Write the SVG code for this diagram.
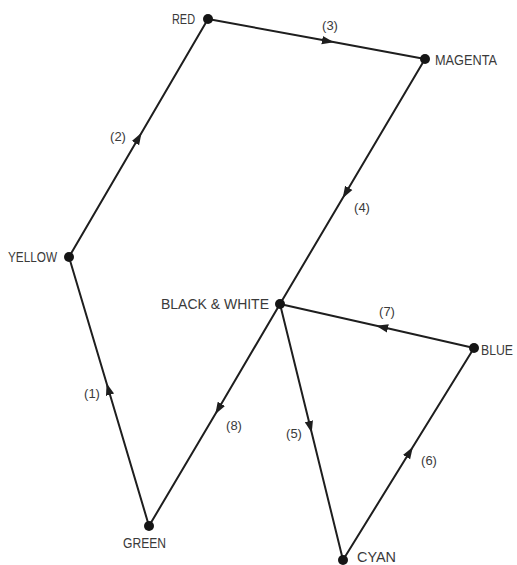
<svg xmlns="http://www.w3.org/2000/svg" width="517" height="565" viewBox="0 0 517 565">
<style>
.e{fill:none;stroke:#1e1e1e;stroke-width:2;marker-mid:url(#ah)}
.n{fill:#151515}
.t{font-family:"Liberation Sans",Arial,sans-serif;font-size:14px;fill:#3a3a3a}
.l{font-family:"Liberation Sans",Arial,sans-serif;font-size:13px;fill:#3a3a3a}
</style>
<defs>
<marker id="ah" markerUnits="userSpaceOnUse" markerWidth="12" markerHeight="10" refX="5" refY="3.5" orient="auto" viewBox="0 0 10 7">
<path d="M0,0 L10,3.5 L0,7 Z" fill="#1e1e1e"/>
</marker>
</defs>
<rect width="517" height="565" fill="#fff"/>
<g id="connectors">
<path id="e1" class="e" d="M149,526 L108.3,389 L69,257"/>
<path id="e2" class="e" d="M69,257 L138.5,138 L208,19"/>
<path id="e3" class="e" d="M208,19 L328,41.1 L425,59"/>
<path id="e4" class="e" d="M425,59 L345.7,193 L280,304"/>
<path id="e5" class="e" d="M280,304 L310.3,427 L343,560"/>
<path id="e6" class="e" d="M343,560 L409.7,452 L474,348"/>
<path id="e7" class="e" d="M474,348 L382,327.1 L280,304"/>
<path id="e8" class="e" d="M280,304 L218.3,409 L149,526"/>
<text class="l" x="330" y="30" text-anchor="middle">(3)</text>
<text class="l" x="118" y="141" text-anchor="middle">(2)</text>
<text class="l" x="362" y="212" text-anchor="middle">(4)</text>
<text class="l" x="387" y="316" text-anchor="middle">(7)</text>
<text class="l" x="92" y="398" text-anchor="middle">(1)</text>
<text class="l" x="234" y="430" text-anchor="middle">(8)</text>
<text class="l" x="294" y="438" text-anchor="middle">(5)</text>
<text class="l" x="429" y="465" text-anchor="middle">(6)</text>
</g>
<g id="red"><circle class="n" cx="208" cy="19" r="5"/><text class="t" x="172" y="24" textLength="23" lengthAdjust="spacingAndGlyphs">RED</text></g>
<g id="magenta"><circle class="n" cx="425" cy="59" r="5"/><text class="t" x="435" y="65" textLength="62" lengthAdjust="spacingAndGlyphs">MAGENTA</text></g>
<g id="yellow"><circle class="n" cx="69" cy="257" r="5"/><text class="t" x="8" y="262" textLength="49" lengthAdjust="spacingAndGlyphs">YELLOW</text></g>
<g id="bw"><circle class="n" cx="280" cy="304" r="5"/><text class="t" x="161" y="309" textLength="108" lengthAdjust="spacingAndGlyphs">BLACK &amp; WHITE</text></g>
<g id="blue"><circle class="n" cx="474" cy="348" r="5"/><text class="t" x="481" y="355" font-size="13" textLength="32" lengthAdjust="spacingAndGlyphs">BLUE</text></g>
<g id="green"><circle class="n" cx="149" cy="526" r="5"/><text class="t" x="123" y="548" textLength="43" lengthAdjust="spacingAndGlyphs">GREEN</text></g>
<g id="cyan"><circle class="n" cx="343" cy="560" r="5"/><text class="t" x="357" y="562" textLength="39" lengthAdjust="spacingAndGlyphs">CYAN</text></g>
</svg>
